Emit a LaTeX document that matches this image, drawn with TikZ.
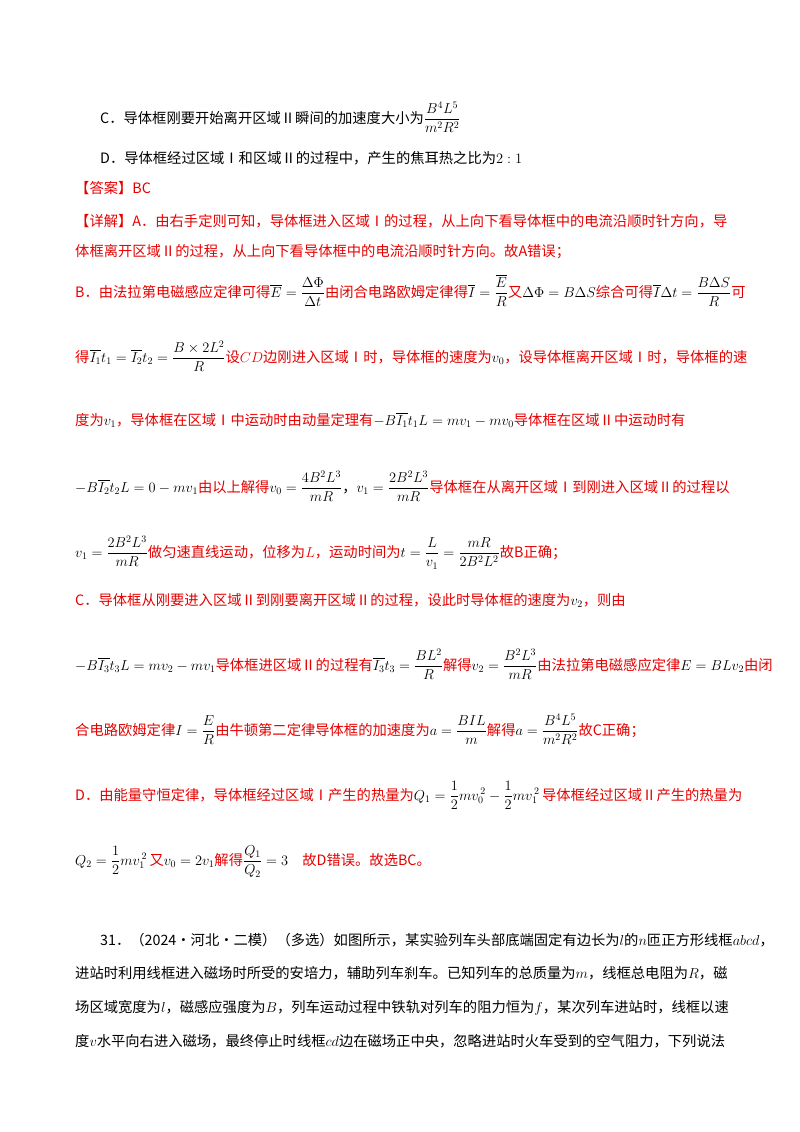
\documentclass[tikz,border=0pt]{standalone}
\usepackage{amsmath}
\usepackage{fontspec}
\setmainfont{Noto Sans CJK SC}
\definecolor{ans}{RGB}{230,0,0}
\begin{document}
\begin{tikzpicture}[x=1pt,y=1pt,
  ln/.style={anchor=base west,inner sep=0pt,font=\fontsize{14.3}{17}\selectfont},
  rd/.style={ln,text=ans}]
\useasboundingbox (0,0) rectangle (800,-1132);
\node[ln] (c) at (100,-123) {C．导体框刚要开始离开区域Ⅱ瞬间的加速度大小为$\dfrac{B^4L^5}{m^2R^2}$};
\node[ln] (d) at (100,-163) {D．导体框经过区域Ⅰ和区域Ⅱ的过程中，产生的焦耳热之比为$2:1$};
\node[rd] (a) at (75,-193) {【答案】BC};
\node[rd] (x1) at (75,-226) {【详解】A．由右手定则可知，导体框进入区域Ⅰ的过程，从上向下看导体框中的电流沿顺时针方向，导};
\node[rd] (x2) at (75,-256) {体框离开区域Ⅱ的过程，从上向下看导体框中的电流沿顺时针方向。故A错误；};
\node[rd] (b1) at (75,-297) {B．由法拉第电磁感应定律可得{\color{black}$\overline{E}=\dfrac{\Delta\Phi}{\Delta t}$}由闭合电路欧姆定律得{\color{black}$\overline{I}=\dfrac{\overline{E}}{R}$}又{\color{black}$\Delta\Phi=B\Delta S$}综合可得{\color{black}$\overline{I}\Delta t=\dfrac{B\Delta S}{R}$}可};
\node[rd] (b2) at (75,-362) {得{\color{black}$\overline{I_1}t_1=\overline{I_2}t_2=\dfrac{B\times2L^2}{R}$}设$CD$边刚进入区域Ⅰ时，导体框的速度为{\color{black}$v_0$}，设导体框离开区域Ⅰ时，导体框的速};
\node[rd] (b3) at (75,-425) {度为{\color{black}$v_1$}，导体框在区域Ⅰ中运动时由动量定理有{\color{black}$-B\overline{I_1}t_1L=mv_1-mv_0$}导体框在区域Ⅱ中运动时有};
\node[rd] (b4) at (75,-492) {{\color{black}$-B\overline{I_2}t_2L=0-mv_1$}由以上解得{\color{black}$v_0=\dfrac{4B^2L^3}{mR}$，$v_1=\dfrac{2B^2L^3}{mR}$}导体框在从离开区域Ⅰ到刚进入区域Ⅱ的过程以};
\node[rd] (b5) at (75,-557) {{\color{black}$v_1=\dfrac{2B^2L^3}{mR}$}做匀速直线运动，位移为$L$，运动时间为{\color{black}$t=\dfrac{L}{v_1}=\dfrac{mR}{2B^2L^2}$}故B正确；};
\node[rd] (c1) at (75,-605) {C．导体框从刚要进入区域Ⅱ到刚要离开区域Ⅱ的过程，设此时导体框的速度为{\color{black}$v_2$}，则由};
\node[rd] (c2) at (75,-670) {{\color{black}$-B\overline{I_3}t_3L=mv_2-mv_1$}导体框进区域Ⅱ的过程有{\color{black}$\overline{I_3}t_3=\dfrac{BL^2}{R}$}解得{\color{black}$v_2=\dfrac{B^2L^3}{mR}$}由法拉第电磁感应定律{\color{black}$E=BLv_2$}由闭};
\node[rd] (c3) at (75,-735) {合电路欧姆定律{\color{black}$I=\dfrac{E}{R}$}由牛顿第二定律导体框的加速度为{\color{black}$a=\dfrac{BIL}{m}$}解得{\color{black}$a=\dfrac{B^4L^5}{m^2R^2}$}故C正确；};
\node[rd] (d1) at (75,-800) {D．由能量守恒定律，导体框经过区域Ⅰ产生的热量为{\color{black}$Q_1=\dfrac12mv_0^{\,2}-\dfrac12mv_1^{\,2}$\,}导体框经过区域Ⅱ产生的热量为};
\node[rd] (d2) at (75,-865) {{\color{black}$Q_2=\dfrac12mv_1^{\,2}$\,}又{\color{black}$v_0=2v_1$}解得{\color{black}$\dfrac{Q_1}{Q_2}=3$}\quad 故D错误。故选BC。};
\node[ln] (q1) at (100,-945) {31．（2024·河北·二模）（多选）如图所示，某实验列车头部底端固定有边长为$l$的$n$匝正方形线框$abcd$，};
\node[ln] (q2) at (75,-978) {进站时利用线框进入磁场时所受的安培力，辅助列车刹车。已知列车的总质量为$m$，线框总电阻为$R$，磁};
\node[ln] (q3) at (75,-1012) {场区域宽度为$l$，磁感应强度为$B$，列车运动过程中铁轨对列车的阻力恒为$f$，某次列车进站时，线框以速};
\node[ln] (q4) at (75,-1046) {度$v$水平向右进入磁场，最终停止时线框$cd$边在磁场正中央，忽略进站时火车受到的空气阻力，下列说法};
\end{tikzpicture}
\end{document}
